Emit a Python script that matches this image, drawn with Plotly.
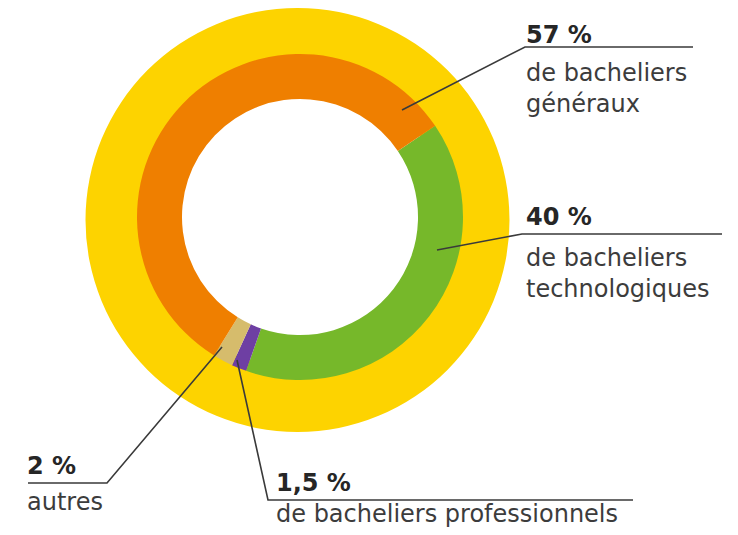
import plotly.graph_objects as go

# The page body adds an 8px margin; the figure is sized/offset to fit 738x535 window.
OFF = 8
W, H = 738 - OFF, 535 - OFF

# Data
ring_labels = ["bacheliers technologiques", "bacheliers professionnels", "autres", "bacheliers généraux"]
ring_values = [40, 1.5, 2, 57]
ring_colors = ["#76B82A", "#6E3FA3", "#D6BC6C", "#EF7F00"]
outer_values = [100]
outer_colors = ["#FDD300"]

pct_texts = ["57 %", "40 %", "2 %", "1,5 %"]
desc_texts = ["de bacheliers<br>généraux", "de bacheliers<br>technologiques", "autres",
              "de bacheliers professionnels"]

def px(x):
    return (x - OFF) / W

def py(y):
    return 1 - (y - OFF) / H

fig = go.Figure()
fig.add_trace(go.Pie(
    values=outer_values, labels=["total"], marker=dict(colors=outer_colors, line=dict(width=0)),
    hole=0.7, sort=False, textinfo="none", hoverinfo="skip", showlegend=False,
    domain=dict(x=[px(85), px(510)], y=[py(432), py(8)]),
))
fig.add_trace(go.Pie(
    values=ring_values, labels=ring_labels, marker=dict(colors=ring_colors, line=dict(width=0)),
    hole=0.724, sort=False, direction="clockwise", rotation=56, textinfo="none",
    showlegend=False,
    domain=dict(x=[px(137), px(463)], y=[py(380), py(54)]),
))

line_style = dict(color="#3a3a3a", width=1.6)
leaders = [
    [(402, 110), (525, 47), (693, 47)],
    [(437, 250), (522, 234), (722, 234)],
    [(222, 347), (107, 483), (28, 483)],
    [(237, 360), (268, 500), (633, 500)],
]
for pts in leaders:
    path = "M " + " L ".join(f"{px(x)},{py(y)}" for x, y in pts)
    fig.add_shape(type="path", path=path, xref="paper", yref="paper", line=line_style)

fs = 24
pct_pos = [(527, 51), (527, 233), (28, 482), (277, 499)]
desc_top = [(527, 57), (527, 242), (28, 486), (277, 498)]
for t, (x, y) in zip(pct_texts, pct_pos):
    fig.add_annotation(text=f"<b>{t}</b>", x=px(x - 3), y=py(y), xref="paper", yref="paper",
                       xanchor="left", yanchor="bottom", showarrow=False,
                       font=dict(family="DejaVu Sans", size=fs, color="#262626"))
for t, (x, y) in zip(desc_texts, desc_top):
    fig.add_annotation(text=t, x=px(x - 3), y=py(y), xref="paper", yref="paper",
                       xanchor="left", yanchor="top", align="left", showarrow=False,
                       font=dict(family="DejaVu Sans", size=fs, color="#3c3c3c"))

fig.update_layout(width=W, height=H, margin=dict(l=0, r=0, t=0, b=0),
                  paper_bgcolor="white", plot_bgcolor="white")
fig.write_html("out.html")
